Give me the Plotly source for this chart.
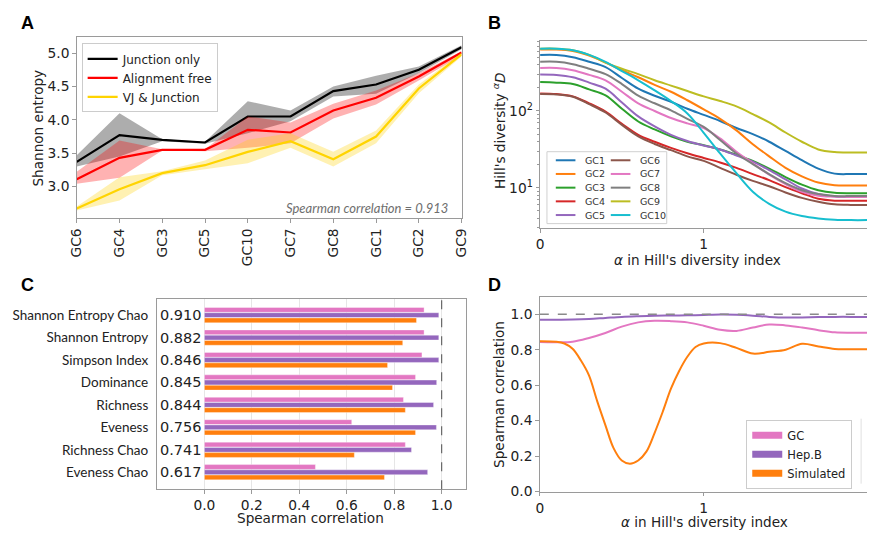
import plotly.graph_objects as go

W, H = 874, 536
FONT = "DejaVu Sans"
LAB = "Lato"
TXT = "#222222"
SPINE = "#9a9a9a"

def xp(px):
    return px / W

def yp(py):
    return 1 - py / H

# ---------------- Panel A data ----------------
cats_a = ["GC6", "GC4", "GC3", "GC5", "GC10", "GC7", "GC8", "GC1", "GC2", "GC9"]
junction = [3.37, 3.77, 3.70, 3.66, 4.05, 4.05, 4.43, 4.53, 4.75, 5.09]
junction_lo = [3.30, 3.45, 3.68, 3.64, 3.80, 3.98, 4.35, 4.39, 4.70, 5.06]
junction_hi = [3.47, 4.10, 3.71, 3.67, 4.28, 4.14, 4.50, 4.66, 4.80, 5.12]
align = [3.11, 3.43, 3.55, 3.55, 3.85, 3.81, 4.14, 4.33, 4.65, 5.01]
align_lo = [3.04, 3.13, 3.54, 3.53, 3.58, 3.65, 4.02, 4.23, 4.59, 4.97]
align_hi = [3.22, 3.69, 3.56, 3.56, 4.05, 3.96, 4.24, 4.44, 4.70, 5.03]
vj = [2.67, 2.96, 3.20, 3.32, 3.52, 3.68, 3.41, 3.75, 4.47, 4.98]
vj_lo = [2.64, 2.79, 3.17, 3.26, 3.35, 3.58, 3.30, 3.65, 4.40, 4.95]
vj_hi = [2.70, 3.14, 3.23, 3.39, 3.70, 3.80, 3.52, 3.84, 4.53, 5.01]
spearman_a = 0.913

# ---------------- Panel B data ----------------
alpha_b = [0.0, 0.1, 0.2, 0.3, 0.4, 0.5, 0.6, 0.7, 0.8, 0.9, 1.0,
           1.1, 1.2, 1.3, 1.4, 1.5, 1.6, 1.7, 1.8, 1.9, 2.0]
hill_gc1 = [537, 537, 501, 437, 372, 269, 195, 158, 132, 107, 89, 74, 60, 50, 39.8, 30.2, 22.9, 17.8, 15.3, 15.1, 15.1]
hill_gc2 = [631, 631, 603, 525, 427, 339, 275, 219, 178, 138, 105, 79, 56, 37, 25.7, 18.2, 14.1, 11.7, 10.8, 10.7, 10.7]
hill_gc3 = [238, 234, 224, 191, 160, 107, 73, 57.5, 46.8, 39.8, 35.9, 31.6, 26.9, 22.4, 17.8, 13.8, 11.0, 9.3, 8.6, 8.5, 8.5]
hill_gc4 = [169, 166, 155, 126, 98, 68, 49, 39.8, 33.1, 28.2, 24.5, 21.4, 18.2, 15.1, 12.6, 10.2, 8.5, 7.2, 6.8, 6.8, 6.8]
hill_gc5 = [299, 295, 275, 234, 195, 129, 85, 63, 49, 40.7, 35.5, 31.6, 26.3, 21.9, 17.0, 12.9, 9.8, 8.3, 7.7, 7.6, 7.6]
hill_gc6 = [166, 164, 153, 123, 95.5, 66, 46.8, 37.2, 30.9, 25.7, 22.4, 18.2, 14.8, 12.3, 10.5, 8.7, 7.4, 6.6, 6.1, 6.0, 6.0]
hill_gc7 = [363, 363, 339, 295, 251, 178, 126, 100, 81, 69, 60, 44, 29.5, 20.9, 14.8, 11.2, 8.9, 7.9, 7.7, 7.6, 7.6]
hill_gc8 = [437, 437, 407, 355, 302, 224, 158, 126, 102, 79, 62, 42, 28, 20.4, 15.1, 11.5, 9.3, 8.3, 7.85, 7.8, 7.8]
hill_gc9 = [646, 646, 617, 537, 427, 355, 302, 251, 214, 182, 155, 135, 115, 91, 71, 52.5, 39.8, 31.6, 29.2, 28.8, 28.8]
hill_gc10 = [646, 646, 617, 537, 437, 331, 251, 186, 135, 93, 52, 28, 15.5, 8.9, 6.2, 4.9, 4.3, 4.0, 3.85, 3.8, 3.8]
hill_names = ["GC1", "GC2", "GC3", "GC4", "GC5", "GC6", "GC7", "GC8", "GC9", "GC10"]
hill_series = [hill_gc1, hill_gc2, hill_gc3, hill_gc4, hill_gc5,
               hill_gc6, hill_gc7, hill_gc8, hill_gc9, hill_gc10]
hill_colors = ["#1f77b4", "#ff7f0e", "#2ca02c", "#d62728", "#9467bd",
               "#8c564b", "#e377c2", "#7f7f7f", "#bcbd22", "#17becf"]

# ---------------- Panel C data ----------------
metrics = ["Shannon Entropy Chao", "Shannon Entropy", "Simpson Index", "Dominance",
           "Richness", "Eveness", "Richness Chao", "Eveness Chao"]
scores = [0.910, 0.882, 0.846, 0.845, 0.844, 0.756, 0.741, 0.617]
bar_gc = [0.926, 0.926, 0.917, 0.890, 0.839, 0.621, 0.847, 0.468]
bar_hepb = [0.988, 0.988, 0.988, 0.979, 0.966, 0.978, 0.873, 0.941]
bar_sim = [0.894, 0.836, 0.772, 0.793, 0.847, 0.890, 0.632, 0.759]
xticks_c = [0.0, 0.2, 0.4, 0.6, 0.8, 1.0]

# ---------------- Panel D data ----------------
alpha_d = [0.0, 0.1, 0.2, 0.3, 0.4, 0.5, 0.6, 0.7, 0.8, 0.9, 1.0,
           1.1, 1.2, 1.3, 1.4, 1.5, 1.6, 1.7, 1.8, 1.9, 2.0]
corr_gc = [0.843, 0.842, 0.845, 0.866, 0.894, 0.930, 0.954, 0.963, 0.961, 0.954, 0.935,
           0.912, 0.906, 0.925, 0.942, 0.937, 0.925, 0.910, 0.898, 0.896, 0.896]
corr_hepb = [0.969, 0.969, 0.970, 0.973, 0.979, 0.985, 0.989, 0.992, 0.993, 0.994, 0.996,
             0.998, 0.997, 0.992, 0.985, 0.981, 0.982, 0.984, 0.985, 0.985, 0.985]
alpha_sim = [0.0, 0.1, 0.15, 0.2, 0.25, 0.3, 0.35, 0.4, 0.45, 0.5, 0.55, 0.6, 0.65, 0.7,
             0.75, 0.8, 0.85, 0.9, 0.95, 1.0, 1.1, 1.2, 1.3, 1.4, 1.5, 1.6, 1.7, 1.8, 1.9, 2.0]
corr_sim = [0.848, 0.845, 0.835, 0.805, 0.74, 0.655, 0.51, 0.375, 0.245, 0.175, 0.157, 0.175,
            0.225, 0.33, 0.45, 0.58, 0.68, 0.76, 0.815, 0.835, 0.837, 0.81, 0.778, 0.788,
            0.80, 0.833, 0.818, 0.804, 0.803, 0.803]
series_names = ["GC", "Hep.B", "Simulated"]
series_colors = ["#e377c2", "#9467bd", "#ff7f0e"]

fig = go.Figure()

# ---------------- Panel A ----------------
xa = list(range(len(cats_a)))

def band(lo, hi, color):
    fig.add_trace(go.Scatter(x=xa + xa[::-1], y=hi + lo[::-1], fill="toself",
                             fillcolor=color, line=dict(width=0), mode="lines",
                             hoverinfo="skip", showlegend=False, xaxis="x", yaxis="y"))

band(junction_lo, junction_hi, "rgba(0,0,0,0.32)")
fig.add_trace(go.Scatter(x=xa, y=junction, mode="lines", name="Junction only",
                         line=dict(color="black", width=2.2), legend="legend",
                         xaxis="x", yaxis="y"))
band(align_lo, align_hi, "rgba(255,0,0,0.3)")
fig.add_trace(go.Scatter(x=xa, y=align, mode="lines", name="Alignment free",
                         line=dict(color="#ff0000", width=2.2), legend="legend",
                         xaxis="x", yaxis="y"))
band(vj_lo, vj_hi, "rgba(255,210,0,0.3)")
fig.add_trace(go.Scatter(x=xa, y=vj, mode="lines", name="VJ & Junction",
                         line=dict(color="#ffd400", width=2.2), legend="legend",
                         xaxis="x", yaxis="y"))

# ---------------- Panel B ----------------
for name, vals, col in zip(hill_names, hill_series, hill_colors):
    fig.add_trace(go.Scatter(x=alpha_b, y=vals, mode="lines", name=name,
                             line=dict(color=col, width=2, shape="spline", smoothing=1.0),
                             showlegend=False, xaxis="x2", yaxis="y2"))

# ---------------- Panel C ----------------
for name, vals, col in zip(series_names, [bar_gc, bar_hepb, bar_sim], series_colors):
    fig.add_trace(go.Bar(y=metrics, x=vals, orientation="h", name=name,
                         marker=dict(color=col, line=dict(width=0.6, color="rgba(255,255,255,0.6)")),
                         showlegend=False, xaxis="x3", yaxis="y3"))

# ---------------- Panel D ----------------
for name, xs, vals, col in zip(series_names, [alpha_d, alpha_d, alpha_sim],
                               [corr_gc, corr_hepb, corr_sim], series_colors):
    fig.add_trace(go.Scatter(x=xs, y=vals, mode="lines", name=name,
                             line=dict(color=col, width=2, shape="spline", smoothing=1.0),
                             showlegend=False, xaxis="x4", yaxis="y4"))
for name, col in zip(series_names, series_colors):
    fig.add_trace(go.Scatter(x=[None], y=[None], mode="lines", name=name,
                             line=dict(color=col, width=7), legend="legend2",
                             xaxis="x4", yaxis="y4"))

tickfont = dict(family=FONT, size=13.8, color=TXT)
axis_common = dict(showline=True, linecolor=SPINE, linewidth=1, ticks="outside",
                   ticklen=3.5, tickcolor=SPINE, tickfont=tickfont, showgrid=False,
                   zeroline=False)

annotations = []
shapes = []

def paper_text(text, px, py, font, xanchor="center", angle=0):
    annotations.append(dict(text=text, x=xp(px), y=yp(py), xref="paper", yref="paper",
                            xanchor=xanchor, yanchor="middle", showarrow=False,
                            textangle=angle, font=font))

# panel letters
for letter, (px, py) in zip("ABCD", [(19, 23), (495, 23), (19, 289), (495, 289)]):
    paper_text("<b>%s</b>" % letter, px, py,
               dict(family="Liberation Sans", size=18, color="black"))

# axis titles
titlefont = dict(family=FONT, size=13.6, color=TXT)
paper_text("Shannon entropy", 30, 130, titlefont, angle=-90)
paper_text("Hill's diversity <sup><i>α</i></sup><i>D</i>", 499, 133, titlefont, angle=-90)
paper_text("<i>α</i> in Hill's diversity index", 701, 264, titlefont)
paper_text("Spearman correlation", 307, 526, titlefont)
paper_text("Spearman correlation", 499, 400, titlefont, angle=-90)
paper_text("<i>α</i> in Hill's diversity index", 708, 530, titlefont)

# Spearman note in A
paper_text("<i>Spearman correlation = %.3f</i>" % spearman_a, 449, 211,
           dict(family=LAB, size=13, color="#6e6e6e"), xanchor="right")

# scores in C
for m, s in zip(metrics, scores):
    annotations.append(dict(text="%.3f" % s, x=-0.1, y=m, xref="x3", yref="y3",
                            xanchor="center", yanchor="middle",
                            showarrow=False, font=dict(family=FONT, size=14.5, color=TXT)))

# manual legend for B (two columns)
shapes.append(dict(type="rect", xref="paper", yref="paper", x0=xp(548), x1=xp(670),
                   y0=yp(227), y1=yp(154), line=dict(color="#d0d0d0", width=1),
                   fillcolor="rgba(255,255,255,0.85)", layer="above"))
for i, (name, col) in enumerate(zip(hill_names, hill_colors)):
    c, r = divmod(i, 5)
    lx = 557 + c * 56
    ly = 162.7 + r * 13.9
    shapes.append(dict(type="line", xref="paper", yref="paper", x0=xp(lx), x1=xp(lx + 20),
                       y0=yp(ly), y1=yp(ly), line=dict(color=col, width=2), layer="above"))
    paper_text(name, lx + 28, ly, dict(family=FONT, size=9.5, color="#333333"), xanchor="left")

# reference lines
shapes.append(dict(type="line", xref="x3", yref="y3 domain", x0=1, x1=1, y0=0, y1=1,
                   line=dict(color="#666666", width=1.2, dash="dash")))
shapes.append(dict(type="line", xref="x4 domain", yref="y4", x0=0, x1=1, y0=1, y1=1,
                   line=dict(color="#8a8a8a", width=1.5, dash="dash")))
# edge of a cropped box on the right of D
shapes.append(dict(type="line", xref="paper", yref="paper", x0=xp(868), x1=xp(868),
                   y0=yp(491), y1=yp(425), line=dict(color="#e0e0e0", width=1)))

fig.update_layout(
    width=W, height=H, margin=dict(l=0, r=0, t=0, b=0),
    paper_bgcolor="white", plot_bgcolor="white",
    bargap=0.3, bargroupgap=0.08, barmode="group",
    showlegend=True,
    xaxis=dict(axis_common, domain=[xp(69), xp(461)], range=[0, 9], tickvals=xa,
               ticktext=cats_a, tickangle=-90, anchor="y", mirror=True),
    yaxis=dict(axis_common, domain=[yp(221.7), yp(37.7)], range=[2.522, 5.24],
               tickvals=[3.0, 3.5, 4.0, 4.5, 5.0], tickformat=".1f", anchor="x", mirror=True),
    xaxis2=dict(axis_common, domain=[xp(541), 1.0], range=[0, 1.998], tickvals=[0, 1, 2],
                anchor="y2", mirror=True),
    yaxis2=dict(axis_common, domain=[yp(231.7), yp(41.7)], type="log", range=[0.474, 2.91],
                tickvals=[10, 100], ticktext=["10<sup>1</sup>", "10<sup>2</sup>"], anchor="x2",
                minor=dict(tickvals=[3, 4, 5, 6, 7, 8, 9, 20, 30, 40, 50, 60, 70, 80, 90,
                                     200, 300, 400, 500, 600, 700, 800],
                           ticks="outside", ticklen=2, tickcolor=SPINE)),
    xaxis3=dict(axis_common, domain=[xp(150.7), xp(465.7)], range=[-0.2, 1.1034],
                tickvals=xticks_c, tickformat=".1f", anchor="y3", mirror=True,
                showgrid=True, gridcolor="#e6e6e6", gridwidth=1),
    yaxis3=dict(axis_common, domain=[yp(496.7), yp(303.3)], type="category",
                categoryorder="array", categoryarray=metrics, range=[7.76, -0.73],
                tickcolor="rgba(0,0,0,0)", ticklen=5, anchor="x3", mirror=True,
                tickfont=dict(family=LAB, size=13.5, color=TXT)),
    xaxis4=dict(axis_common, domain=[xp(540.7), 1.0], range=[0, 1.996], tickvals=[0, 1, 2],
                anchor="y4", mirror=True),
    yaxis4=dict(axis_common, domain=[yp(499), yp(301.7)], range=[0, 1.096],
                tickvals=[0.0, 0.2, 0.4, 0.6, 0.8, 1.0], tickformat=".1f", anchor="x4"),
    legend=dict(x=xp(74), y=yp(44), xanchor="left", yanchor="top",
                bgcolor="rgba(255,255,255,0.85)", bordercolor="#cccccc", borderwidth=1,
                font=dict(family=FONT, size=12, color=TXT), tracegroupgap=0),
    legend2=dict(x=xp(751), y=yp(426), xanchor="left", yanchor="top",
                 bgcolor="rgba(255,255,255,0.85)", bordercolor="#cccccc", borderwidth=1,
                 font=dict(family=FONT, size=11.5, color=TXT), tracegroupgap=0),
    annotations=annotations,
    shapes=shapes,
)

fig.write_html("out.html", config={"displayModeBar": False},
               post_script="document.body.style.margin='0px';"
                           "document.body.style.overflow='hidden';")
